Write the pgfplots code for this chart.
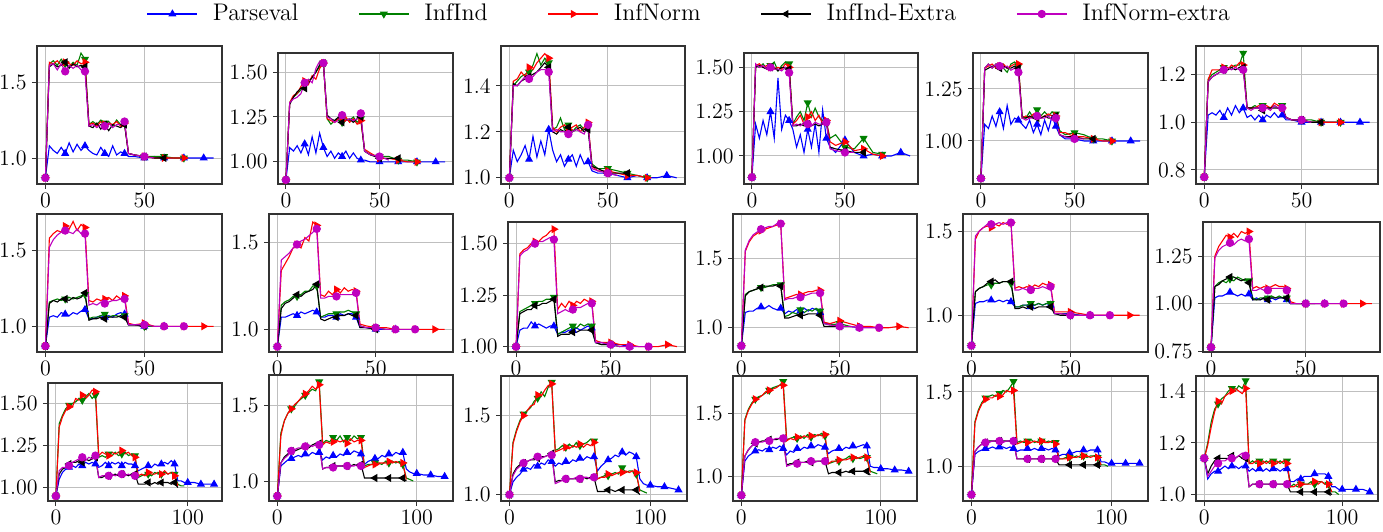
\documentclass[border=0pt]{standalone}
\usepackage{pgfplots}
\usepackage{pgfplotstable}
\pgfplotsset{compat=1.18}
\definecolor{gGreen}{rgb}{0,0.5,0}
\definecolor{mMag}{rgb}{0.75,0,0.75}

% ---------------- Row 1 ----------------
\pgfplotstableread{
x p g r k m
0 0.87 0.87 0.87 0.87 0.87
2 1.08 1.62 1.63 1.60 1.61
4 1.05 1.64 1.62 1.62 1.62
6 1.03 1.61 1.64 1.60 1.58
8 1.07 1.65 1.61 1.61 1.62
10 1.03 1.62 1.63 1.63 1.57
12 1.10 1.60 1.62 1.59 1.61
14 1.04 1.63 1.61 1.62 1.59
16 1.09 1.61 1.64 1.60 1.61
18 1.05 1.69 1.62 1.61 1.58
20 1.08 1.65 1.63 1.60 1.57
22 1.05 1.22 1.22 1.21 1.21
24 1.03 1.24 1.23 1.20 1.22
26 1.02 1.22 1.21 1.23 1.20
28 1.07 1.25 1.24 1.19 1.22
30 1.03 1.23 1.22 1.22 1.21
32 1.01 1.24 1.23 1.18 1.23
34 1.08 1.21 1.22 1.22 1.20
36 1.02 1.25 1.24 1.21 1.22
38 1.04 1.22 1.21 1.20 1.22
40 1.03 1.23 1.23 1.22 1.24
42 1.01 1.03 1.03 1.03 1.03
45 1.01 1.02 1.02 1.02 1.02
50 1.00 1.01 1.01 1.01 1.01
55 1.01 1.01 1.00 1.00 1.00
60 1.00 1.01 1.00 1.00 nan
65 1.00 1.00 1.00 nan nan
70 1.00 1.00 1.00 nan nan
75 1.00 nan nan nan nan
80 1.00 nan nan nan nan
85 1.00 nan nan nan nan
}\dA
\pgfplotstableread{
x p g r k m
0 0.90 0.90 0.90 0.90 0.90
2 1.08 1.33 1.33 1.32 1.33
4 1.06 1.36 1.37 1.36 1.35
6 1.09 1.38 1.38 1.39 1.36
8 1.05 1.40 1.42 1.41 1.38
10 1.10 1.43 1.45 1.41 1.44
12 1.04 1.45 1.43 1.44 1.46
14 1.14 1.47 1.48 1.47 1.44
16 1.05 1.50 1.46 1.50 1.52
18 1.16 1.53 1.52 1.54 1.56
20 1.08 1.55 1.55 1.55 1.55
22 1.03 1.24 1.24 1.26 1.25
24 1.06 1.21 1.23 1.24 1.24
26 1.02 1.23 1.22 1.23 1.22
28 1.05 1.24 1.24 1.25 1.23
30 1.03 1.22 1.23 1.22 1.26
32 1.06 1.24 1.25 1.23 1.23
34 1.02 1.23 1.22 1.24 1.24
36 1.05 1.25 1.24 1.22 1.23
38 1.02 1.22 1.21 1.24 1.24
40 1.01 1.24 1.23 1.25 1.27
42 1.01 1.06 1.07 1.06 1.06
45 1.00 1.04 1.05 1.04 1.04
50 1.00 1.03 1.02 1.02 1.03
55 1.00 1.03 1.02 1.02 1.01
60 1.00 1.01 1.01 1.02 nan
65 1.00 1.01 1.00 nan nan
70 1.00 1.00 1.00 nan nan
75 1.00 nan nan nan nan
80 1.00 nan nan nan nan
85 1.00 nan nan nan nan
}\dB
\pgfplotstableread{
x p g r k m
0 1.00 1.00 1.00 1.00 1.00
2 1.12 1.40 1.42 1.41 1.40
4 1.07 1.42 1.43 1.40 1.40
6 1.10 1.44 1.46 1.42 1.42
8 1.14 1.45 1.44 1.43 1.44
10 1.08 1.46 1.48 1.44 1.43
12 1.18 1.49 1.47 1.45 1.44
14 1.09 1.54 1.50 1.46 1.46
16 1.16 1.49 1.52 1.48 1.47
18 1.10 1.52 1.54 1.50 1.47
20 1.21 1.50 1.52 1.48 1.46
22 1.12 1.21 1.22 1.20 1.20
24 1.07 1.22 1.20 1.19 1.21
26 1.10 1.26 1.22 1.21 1.20
28 1.05 1.21 1.23 1.20 1.20
30 1.08 1.23 1.21 1.22 1.19
32 1.10 1.20 1.22 1.20 1.20
34 1.05 1.22 1.23 1.21 1.21
36 1.10 1.23 1.20 1.22 1.20
38 1.06 1.21 1.22 1.20 1.19
40 1.07 1.22 1.24 1.21 1.23
42 1.03 1.06 1.05 1.05 1.04
45 1.02 1.04 1.03 1.04 1.03
50 1.02 1.04 1.03 1.02 1.02
55 1.01 1.03 1.02 1.02 1.01
60 1.00 1.02 1.01 1.02 nan
65 1.01 1.01 1.01 nan nan
70 1.00 1.00 1.00 nan nan
75 1.00 nan nan nan nan
80 1.01 nan nan nan nan
85 1.00 nan nan nan nan
}\dC
\pgfplotstableread{
x p g r k m
0 0.88 0.88 0.88 0.88 0.88
2 1.18 1.51 1.51 1.50 1.52
4 1.10 1.50 1.52 1.51 1.50
6 1.20 1.52 1.50 1.50 1.51
8 1.12 1.49 1.51 1.49 1.49
10 1.25 1.51 1.50 1.50 1.50
12 1.10 1.53 1.49 1.50 1.49
14 1.44 1.48 1.50 1.48 1.49
16 1.15 1.51 1.49 1.50 1.48
18 1.23 1.53 1.52 1.50 1.50
20 1.20 1.52 1.50 1.49 1.47
22 1.15 1.18 1.18 1.17 1.17
24 1.05 1.22 1.20 1.17 1.18
26 1.12 1.25 1.23 1.18 1.17
28 1.02 1.20 1.18 1.17 1.19
30 1.15 1.30 1.22 1.18 1.18
32 1.05 1.22 1.25 1.17 1.17
34 1.18 1.27 1.20 1.18 1.19
36 1.02 1.22 1.23 1.17 1.18
38 1.26 1.20 1.18 1.18 1.18
40 1.10 1.19 1.20 1.19 1.19
42 1.05 1.10 1.08 1.05 1.04
45 1.02 1.12 1.06 1.04 1.03
50 1.09 1.05 1.08 1.03 1.02
55 1.02 1.04 1.03 1.02 1.02
60 1.00 1.10 1.04 1.02 nan
65 1.01 1.02 1.01 nan nan
70 1.00 1.01 1.00 nan nan
75 1.00 nan nan nan nan
80 1.02 nan nan nan nan
85 1.00 nan nan nan nan
}\dD
\pgfplotstableread{
x p g r k m
0 0.82 0.82 0.82 0.82 0.82
2 1.08 1.35 1.35 1.34 1.35
4 1.06 1.37 1.36 1.35 1.37
6 1.12 1.35 1.37 1.36 1.35
8 1.07 1.37 1.35 1.36 1.37
10 1.14 1.36 1.36 1.35 1.36
12 1.06 1.35 1.37 1.36 1.35
14 1.17 1.33 1.35 1.35 1.36
16 1.08 1.37 1.36 1.35 1.34
18 1.11 1.38 1.37 1.36 1.35
20 1.10 1.36 1.37 1.35 1.33
22 1.08 1.12 1.11 1.11 1.11
24 1.06 1.11 1.12 1.11 1.10
26 1.10 1.14 1.11 1.12 1.11
28 1.04 1.11 1.13 1.11 1.11
30 1.08 1.15 1.12 1.11 1.12
32 1.03 1.12 1.11 1.11 1.11
34 1.10 1.14 1.12 1.12 1.11
36 1.05 1.12 1.13 1.11 1.12
38 1.12 1.14 1.12 1.11 1.10
40 1.07 1.13 1.12 1.12 1.11
42 1.03 1.05 1.04 1.03 1.03
45 1.01 1.03 1.04 1.02 1.02
50 1.01 1.04 1.02 1.02 1.01
55 1.00 1.03 1.02 1.01 1.01
60 1.00 1.01 1.01 1.01 nan
65 1.00 1.01 1.00 nan nan
70 1.00 1.00 1.00 nan nan
75 1.00 nan nan nan nan
80 1.00 nan nan nan nan
85 1.00 nan nan nan nan
}\dE
\pgfplotstableread{
x p g r k m
0 0.77 0.77 0.77 0.77 0.77
2 1.03 1.18 1.18 1.17 1.17
4 1.04 1.20 1.22 1.19 1.19
6 1.03 1.21 1.22 1.20 1.20
8 1.05 1.22 1.22 1.21 1.21
10 1.02 1.23 1.23 1.22 1.22
12 1.06 1.22 1.22 1.22 1.23
14 1.03 1.23 1.24 1.23 1.22
16 1.07 1.24 1.23 1.22 1.23
18 1.04 1.24 1.25 1.23 1.22
20 1.06 1.29 1.24 1.23 1.22
22 1.02 1.06 1.06 1.06 1.06
24 1.03 1.06 1.06 1.06 1.05
26 1.01 1.07 1.06 1.06 1.06
28 1.03 1.06 1.07 1.06 1.06
30 1.01 1.07 1.06 1.05 1.06
32 1.03 1.06 1.07 1.06 1.06
34 1.02 1.06 1.06 1.06 1.05
36 1.04 1.07 1.08 1.06 1.07
38 1.02 1.06 1.07 1.06 1.06
40 1.03 1.07 1.06 1.06 1.06
42 1.01 1.02 1.02 1.02 1.02
45 1.01 1.01 1.01 1.01 1.01
50 1.00 1.01 1.01 1.01 1.01
55 1.00 1.01 1.00 1.00 1.00
60 1.00 1.00 1.00 1.00 nan
65 1.00 1.00 1.00 nan nan
70 1.00 1.00 1.00 nan nan
75 1.00 nan nan nan nan
80 1.00 nan nan nan nan
85 1.00 nan nan nan nan
}\dF

% ---------------- Row 2 ----------------
\pgfplotstableread{
x p g r k m
0 0.87 0.87 0.87 0.87 0.87
2 1.06 1.16 1.58 1.15 1.52
4 1.07 1.17 1.61 1.17 1.57
6 1.06 1.18 1.63 1.16 1.60
8 1.09 1.17 1.62 1.18 1.62
10 1.08 1.18 1.66 1.18 1.63
12 1.07 1.19 1.64 1.17 1.62
14 1.09 1.18 1.69 1.19 1.61
16 1.08 1.19 1.63 1.18 1.64
18 1.10 1.20 1.67 1.19 1.61
20 1.11 1.21 1.65 1.22 1.61
22 1.05 1.05 1.17 1.04 1.14
24 1.05 1.06 1.16 1.05 1.15
26 1.06 1.06 1.18 1.05 1.14
28 1.07 1.07 1.17 1.06 1.16
30 1.06 1.08 1.18 1.05 1.15
32 1.07 1.06 1.19 1.06 1.16
34 1.06 1.07 1.17 1.06 1.17
36 1.08 1.07 1.20 1.06 1.17
38 1.09 1.06 1.18 1.07 1.18
40 1.08 1.07 1.20 1.06 1.18
42 1.01 1.01 1.02 1.01 1.01
45 1.01 1.01 1.01 1.01 1.01
50 1.00 1.00 1.02 1.00 1.01
55 1.00 1.00 1.00 nan 1.00
60 1.00 nan 1.00 nan 1.00
65 nan nan 1.00 nan 1.00
70 nan nan 1.00 nan 1.00
75 nan nan 1.00 nan nan
80 nan nan 1.00 nan nan
85 nan nan 1.00 nan nan
}\dG
\pgfplotstableread{
x p g r k m
0 0.90 0.90 0.90 0.90 0.90
2 1.07 1.14 1.34 1.12 1.40
4 1.07 1.16 1.38 1.15 1.42
6 1.08 1.17 1.42 1.16 1.44
8 1.09 1.19 1.47 1.18 1.47
10 1.08 1.19 1.49 1.20 1.49
12 1.10 1.20 1.47 1.19 1.51
14 1.09 1.22 1.53 1.21 1.52
16 1.10 1.22 1.51 1.22 1.54
18 1.11 1.25 1.62 1.23 1.56
20 1.10 1.25 1.60 1.26 1.58
22 1.07 1.07 1.20 1.06 1.18
24 1.07 1.08 1.19 1.05 1.18
26 1.08 1.09 1.22 1.06 1.19
28 1.08 1.09 1.20 1.07 1.19
30 1.07 1.09 1.23 1.07 1.19
32 1.09 1.10 1.21 1.08 1.20
34 1.08 1.10 1.24 1.08 1.20
36 1.09 1.11 1.22 1.09 1.20
38 1.09 1.10 1.23 1.08 1.20
40 1.07 1.09 1.22 1.08 1.21
42 1.01 1.02 1.03 1.01 1.02
45 1.01 1.01 1.02 1.01 1.01
50 1.00 1.01 1.01 1.00 1.01
55 1.00 1.00 1.01 nan 1.00
60 1.00 nan 1.00 nan 1.00
65 nan nan 1.00 nan 1.00
70 nan nan 1.00 nan 1.00
75 nan nan 1.00 nan nan
80 nan nan 1.00 nan nan
85 nan nan 1.00 nan nan
}\dH
\pgfplotstableread{
x p g r k m
0 1.00 1.00 1.00 1.00 1.00
2 1.08 1.17 1.45 1.16 1.44
4 1.09 1.18 1.47 1.17 1.46
6 1.09 1.19 1.48 1.18 1.47
8 1.12 1.20 1.50 1.18 1.49
10 1.10 1.21 1.51 1.20 1.50
12 1.11 1.22 1.51 1.20 1.51
14 1.10 1.22 1.53 1.21 1.51
16 1.09 1.23 1.54 1.21 1.52
18 1.10 1.23 1.56 1.22 1.53
20 1.10 1.24 1.57 1.23 1.52
22 1.06 1.06 1.18 1.05 1.16
24 1.07 1.07 1.21 1.06 1.17
26 1.07 1.08 1.19 1.06 1.18
28 1.08 1.09 1.22 1.06 1.17
30 1.08 1.10 1.20 1.07 1.18
32 1.09 1.09 1.22 1.07 1.19
34 1.08 1.11 1.21 1.08 1.19
36 1.09 1.10 1.23 1.08 1.20
38 1.10 1.11 1.22 1.08 1.21
40 1.09 1.10 1.22 1.08 1.21
42 1.02 1.02 1.03 1.02 1.02
45 1.02 1.01 1.02 1.01 1.02
50 1.01 1.01 1.02 1.01 1.01
55 1.01 1.00 1.01 nan 1.00
60 1.00 nan 1.01 nan 1.00
65 nan nan 1.00 nan 1.00
70 nan nan 1.00 nan 1.00
75 nan nan 1.00 nan nan
80 nan nan 1.01 nan nan
85 nan nan 1.00 nan nan
}\dI
\pgfplotstableread{
x p g r k m
0 0.87 0.87 0.87 0.87 0.87
2 1.11 1.24 1.55 1.23 1.56
4 1.12 1.26 1.62 1.26 1.63
6 1.12 1.27 1.66 1.27 1.67
8 1.14 1.28 1.68 1.28 1.69
10 1.15 1.29 1.70 1.29 1.71
12 1.14 1.29 1.71 1.30 1.72
14 1.16 1.30 1.72 1.30 1.73
16 1.14 1.31 1.73 1.30 1.73
18 1.13 1.31 1.74 1.31 1.75
20 1.14 1.31 1.75 1.30 1.75
22 1.10 1.08 1.21 1.07 1.20
24 1.12 1.09 1.22 1.07 1.21
26 1.11 1.11 1.23 1.08 1.21
28 1.13 1.10 1.24 1.09 1.22
30 1.12 1.13 1.24 1.09 1.22
32 1.14 1.11 1.25 1.09 1.23
34 1.12 1.13 1.26 1.10 1.24
36 1.14 1.12 1.26 1.10 1.25
38 1.13 1.14 1.27 1.10 1.25
40 1.11 1.12 1.27 1.09 1.25
42 1.03 1.03 1.04 1.01 1.03
45 1.03 1.02 1.03 1.01 1.02
50 1.01 1.03 1.05 1.01 1.01
55 1.01 1.01 1.03 nan 1.01
60 1.00 nan 1.01 nan 1.00
65 nan nan 1.01 nan 1.00
70 nan nan 1.00 nan 1.00
75 nan nan 1.00 nan nan
80 nan nan 1.01 nan nan
85 nan nan 1.00 nan nan
}\dJ
\pgfplotstableread{
x p g r k m
0 0.82 0.82 0.82 0.82 0.82
2 1.07 1.14 1.45 1.14 1.47
4 1.08 1.16 1.50 1.16 1.50
6 1.08 1.17 1.52 1.17 1.52
8 1.09 1.18 1.53 1.19 1.54
10 1.09 1.18 1.52 1.20 1.54
12 1.08 1.19 1.54 1.21 1.54
14 1.09 1.19 1.53 1.19 1.55
16 1.08 1.20 1.55 1.20 1.54
18 1.09 1.20 1.54 1.20 1.55
20 1.08 1.19 1.55 1.20 1.55
22 1.05 1.05 1.16 1.04 1.15
24 1.05 1.05 1.17 1.04 1.15
26 1.06 1.06 1.16 1.05 1.16
28 1.06 1.06 1.17 1.04 1.15
30 1.05 1.07 1.16 1.05 1.15
32 1.06 1.06 1.18 1.04 1.16
34 1.07 1.07 1.17 1.05 1.16
36 1.06 1.06 1.19 1.05 1.17
38 1.07 1.07 1.18 1.05 1.16
40 1.06 1.07 1.18 1.05 1.17
42 1.01 1.01 1.02 1.01 1.01
45 1.01 1.01 1.02 1.00 1.01
50 1.01 1.00 1.02 1.00 1.00
55 1.00 1.00 1.01 nan 1.00
60 1.00 nan 1.00 nan 1.00
65 nan nan 1.00 nan 1.00
70 nan nan 1.00 nan 1.00
75 nan nan 1.00 nan nan
80 nan nan 1.00 nan nan
85 nan nan 1.00 nan nan
}\dK
\pgfplotstableread{
x p g r k m
0 0.77 0.77 0.77 0.77 0.77
2 1.03 1.09 1.25 1.09 1.24
4 1.04 1.11 1.30 1.10 1.28
6 1.04 1.12 1.33 1.12 1.30
8 1.05 1.11 1.36 1.13 1.31
10 1.06 1.13 1.35 1.14 1.32
12 1.05 1.12 1.37 1.14 1.31
14 1.04 1.14 1.35 1.13 1.33
16 1.05 1.13 1.38 1.12 1.34
18 1.04 1.12 1.37 1.13 1.33
20 1.05 1.12 1.38 1.11 1.34
22 1.02 1.03 1.08 1.02 1.07
24 1.03 1.02 1.09 1.02 1.07
26 1.02 1.03 1.08 1.02 1.08
28 1.03 1.03 1.09 1.03 1.07
30 1.02 1.03 1.08 1.02 1.07
32 1.03 1.04 1.09 1.03 1.08
34 1.02 1.03 1.10 1.03 1.08
36 1.03 1.04 1.09 1.03 1.08
38 1.03 1.03 1.09 1.03 1.08
40 1.02 1.03 1.08 1.03 1.07
42 1.00 1.00 1.01 1.00 1.00
45 1.00 1.00 1.00 1.00 1.00
50 1.00 1.00 1.00 1.00 1.00
55 1.00 1.00 1.00 nan 1.00
60 1.00 nan 1.00 nan 1.00
65 nan nan 1.00 nan 1.00
70 nan nan 1.00 nan 1.00
75 nan nan 1.00 nan nan
80 nan nan 1.00 nan nan
85 nan nan 1.00 nan nan
}\dL

% ---------------- Row 3 ----------------
\pgfplotstableread{
x p g r k m
0 0.95 0.95 0.95 0.95 0.95
2.5 1.05 1.38 1.36 1.08 1.10
5 1.09 1.43 1.42 1.11 1.12
7.5 1.11 1.47 1.46 1.12 1.12
10 1.12 1.49 1.48 1.14 1.13
12.5 1.13 1.50 1.48 1.15 1.15
15 1.12 1.51 1.53 1.15 1.16
17.5 1.14 1.53 1.52 1.16 1.17
20 1.13 1.52 1.55 1.15 1.18
22.5 1.15 1.54 1.53 1.17 1.16
25 1.14 1.56 1.55 1.16 1.18
27.5 1.15 1.53 1.58 1.17 1.17
30 1.14 1.55 1.57 1.18 1.19
32.5 1.12 1.18 1.19 1.06 1.06
35 1.13 1.19 1.21 1.06 1.07
37.5 1.15 1.18 1.20 1.07 1.07
40 1.13 1.20 1.19 1.07 1.07
42.5 1.15 1.19 1.21 1.07 1.08
45 1.14 1.21 1.20 1.08 1.07
47.5 1.15 1.19 1.21 1.07 1.08
50 1.13 1.20 1.22 1.08 1.08
52.5 1.15 1.21 1.20 1.08 1.07
55 1.14 1.19 1.21 1.07 1.08
57.5 1.14 1.20 1.19 1.08 1.07
60 1.13 1.19 1.18 1.08 1.07
62.5 1.10 1.06 1.07 1.02 nan
65 1.11 1.07 1.08 1.02 nan
67.5 1.12 1.08 1.07 1.02 nan
70 1.13 1.08 1.09 1.03 nan
72.5 1.12 1.07 1.08 1.02 nan
75 1.14 1.09 1.08 1.03 nan
77.5 1.13 1.08 1.09 1.02 nan
80 1.14 1.08 1.08 1.03 nan
82.5 1.15 1.09 1.10 1.03 nan
85 1.14 1.08 1.08 1.03 nan
87.5 1.16 1.09 1.09 1.02 nan
90 1.14 1.08 1.07 1.03 nan
92.5 1.04 1.02 1.01 1.00 nan
95 1.04 1.01 nan nan nan
97.5 1.03 1.01 nan nan nan
100 1.03 nan nan nan nan
105 1.03 nan nan nan nan
110 1.02 nan nan nan nan
115 1.02 nan nan nan nan
120 1.02 nan nan nan nan
}\dM
\pgfplotstableread{
x p g r k m
0 0.90 0.90 0.90 0.90 0.90
2.5 1.10 1.32 1.30 1.12 1.12
5 1.12 1.40 1.40 1.16 1.15
7.5 1.14 1.45 1.45 1.18 1.17
10 1.15 1.48 1.48 1.20 1.20
12.5 1.16 1.50 1.51 1.20 1.21
15 1.17 1.53 1.53 1.21 1.22
17.5 1.16 1.55 1.56 1.22 1.22
20 1.18 1.57 1.58 1.23 1.23
22.5 1.17 1.59 1.60 1.22 1.24
25 1.19 1.61 1.63 1.24 1.23
27.5 1.18 1.60 1.61 1.25 1.24
30 1.19 1.66 1.64 1.25 1.24
32.5 1.14 1.25 1.24 1.08 1.08
35 1.16 1.27 1.26 1.09 1.09
37.5 1.15 1.26 1.25 1.09 1.09
40 1.17 1.29 1.26 1.10 1.09
42.5 1.16 1.27 1.27 1.10 1.10
45 1.18 1.30 1.26 1.10 1.10
47.5 1.17 1.26 1.27 1.10 1.10
50 1.19 1.29 1.25 1.10 1.10
52.5 1.18 1.27 1.28 1.10 1.10
55 1.20 1.30 1.26 1.11 1.10
57.5 1.19 1.28 1.27 1.10 1.11
60 1.18 1.29 1.27 1.11 1.10
62.5 1.11 1.10 1.09 1.02 nan
65 1.13 1.11 1.10 1.02 nan
67.5 1.14 1.11 1.11 1.02 nan
70 1.15 1.12 1.11 1.02 nan
72.5 1.15 1.12 1.12 1.02 nan
75 1.17 1.11 1.12 1.02 nan
77.5 1.16 1.13 1.12 1.02 nan
80 1.18 1.12 1.13 1.02 nan
82.5 1.17 1.13 1.12 1.02 nan
85 1.19 1.12 1.13 1.02 nan
87.5 1.18 1.13 1.12 1.02 nan
90 1.19 1.11 1.12 1.02 nan
92.5 1.08 1.02 1.01 1.00 nan
95 1.06 1.01 nan nan nan
97.5 1.05 1.00 nan nan nan
100 1.05 nan nan nan nan
105 1.04 nan nan nan nan
110 1.04 nan nan nan nan
115 1.03 nan nan nan nan
120 1.03 nan nan nan nan
}\dN
\pgfplotstableread{
x p g r k m
0 1.00 1.00 1.00 1.00 1.00
2.5 1.08 1.33 1.32 1.13 1.12
5 1.11 1.41 1.40 1.17 1.16
7.5 1.13 1.47 1.46 1.19 1.18
10 1.16 1.51 1.50 1.20 1.20
12.5 1.17 1.53 1.53 1.21 1.21
15 1.16 1.55 1.56 1.22 1.22
17.5 1.19 1.59 1.57 1.22 1.23
20 1.18 1.61 1.63 1.23 1.24
22.5 1.20 1.65 1.62 1.24 1.23
25 1.19 1.62 1.66 1.24 1.24
27.5 1.22 1.68 1.69 1.25 1.25
30 1.21 1.71 1.70 1.26 1.25
32.5 1.18 1.28 1.27 1.08 1.07
35 1.20 1.29 1.28 1.09 1.08
37.5 1.19 1.31 1.29 1.09 1.09
40 1.21 1.30 1.30 1.10 1.10
42.5 1.20 1.32 1.29 1.10 1.10
45 1.22 1.30 1.31 1.10 1.10
47.5 1.21 1.33 1.30 1.10 1.11
50 1.23 1.31 1.32 1.10 1.10
52.5 1.22 1.32 1.30 1.11 1.11
55 1.24 1.33 1.32 1.10 1.11
57.5 1.23 1.35 1.31 1.11 1.10
60 1.24 1.34 1.33 1.11 1.11
62.5 1.15 1.10 1.10 1.02 nan
65 1.18 1.11 1.11 1.02 nan
67.5 1.20 1.12 1.11 1.02 nan
70 1.22 1.12 1.13 1.03 nan
72.5 1.23 1.13 1.12 1.03 nan
75 1.25 1.14 1.13 1.02 nan
77.5 1.24 1.13 1.14 1.03 nan
80 1.27 1.17 1.14 1.03 nan
82.5 1.25 1.14 1.15 1.03 nan
85 1.27 1.15 1.14 1.03 nan
87.5 1.26 1.15 1.15 1.03 nan
90 1.24 1.13 1.14 1.03 nan
92.5 1.10 1.03 1.02 1.00 nan
95 1.07 1.02 nan nan nan
97.5 1.06 1.01 nan nan nan
100 1.06 nan nan nan nan
105 1.05 nan nan nan nan
110 1.05 nan nan nan nan
115 1.04 nan nan nan nan
120 1.03 nan nan nan nan
}\dO
\pgfplotstableread{
x p g r k m
0 0.85 0.85 0.85 0.85 0.85
2.5 1.12 1.45 1.44 1.16 1.16
5 1.16 1.53 1.52 1.21 1.21
7.5 1.18 1.58 1.57 1.24 1.24
10 1.20 1.61 1.61 1.26 1.27
12.5 1.21 1.63 1.62 1.27 1.27
15 1.20 1.64 1.64 1.28 1.27
17.5 1.22 1.66 1.67 1.28 1.28
20 1.21 1.68 1.68 1.29 1.28
22.5 1.23 1.70 1.69 1.29 1.29
25 1.22 1.71 1.70 1.29 1.30
27.5 1.24 1.72 1.72 1.30 1.30
30 1.22 1.75 1.72 1.30 1.30
32.5 1.17 1.29 1.28 1.09 1.08
35 1.20 1.30 1.30 1.10 1.09
37.5 1.19 1.31 1.29 1.10 1.10
40 1.22 1.30 1.31 1.11 1.10
42.5 1.21 1.32 1.30 1.11 1.11
45 1.23 1.30 1.32 1.11 1.11
47.5 1.22 1.33 1.31 1.12 1.11
50 1.24 1.31 1.32 1.11 1.12
52.5 1.23 1.33 1.31 1.12 1.11
55 1.25 1.32 1.33 1.12 1.12
57.5 1.24 1.34 1.32 1.12 1.12
60 1.23 1.32 1.33 1.12 1.12
62.5 1.18 1.10 1.10 1.02 nan
65 1.20 1.11 1.12 1.03 nan
67.5 1.21 1.12 1.12 1.03 nan
70 1.22 1.12 1.13 1.03 nan
72.5 1.21 1.13 1.13 1.03 nan
75 1.23 1.14 1.13 1.04 nan
77.5 1.22 1.16 1.14 1.03 nan
80 1.24 1.14 1.15 1.04 nan
82.5 1.23 1.15 1.14 1.04 nan
85 1.24 1.14 1.15 1.04 nan
87.5 1.25 1.15 1.16 1.04 nan
90 1.24 1.15 1.15 1.04 nan
92.5 1.08 1.04 1.03 1.01 nan
95 1.07 1.03 nan nan nan
97.5 1.07 1.02 nan nan nan
100 1.06 nan nan nan nan
105 1.06 nan nan nan nan
110 1.05 nan nan nan nan
115 1.05 nan nan nan nan
120 1.04 nan nan nan nan
}\dP
\pgfplotstableread{
x p g r k m
0 0.81 0.81 0.81 0.81 0.81
2.5 1.08 1.30 1.29 1.10 1.10
5 1.10 1.38 1.37 1.13 1.13
7.5 1.11 1.43 1.42 1.15 1.15
10 1.12 1.46 1.45 1.16 1.16
12.5 1.12 1.47 1.46 1.17 1.16
15 1.13 1.48 1.46 1.17 1.17
17.5 1.12 1.47 1.48 1.17 1.17
20 1.13 1.49 1.47 1.17 1.17
22.5 1.13 1.51 1.48 1.17 1.16
25 1.12 1.50 1.51 1.17 1.17
27.5 1.13 1.53 1.50 1.17 1.17
30 1.12 1.57 1.51 1.17 1.17
32.5 1.10 1.16 1.15 1.05 1.05
35 1.11 1.17 1.16 1.05 1.05
37.5 1.11 1.16 1.17 1.05 1.05
40 1.12 1.17 1.16 1.05 1.05
42.5 1.11 1.18 1.16 1.05 1.05
45 1.12 1.16 1.17 1.05 1.05
47.5 1.11 1.17 1.16 1.05 1.05
50 1.12 1.17 1.17 1.05 1.05
52.5 1.12 1.16 1.16 1.05 1.05
55 1.11 1.17 1.16 1.05 1.05
57.5 1.12 1.16 1.17 1.05 1.05
60 1.11 1.16 1.15 1.05 1.05
62.5 1.07 1.05 1.05 1.01 nan
65 1.08 1.05 1.05 1.01 nan
67.5 1.08 1.06 1.05 1.01 nan
70 1.09 1.06 1.06 1.01 nan
72.5 1.09 1.06 1.06 1.01 nan
75 1.10 1.07 1.06 1.01 nan
77.5 1.10 1.06 1.07 1.01 nan
80 1.11 1.07 1.07 1.01 nan
82.5 1.10 1.06 1.07 1.01 nan
85 1.11 1.07 1.06 1.01 nan
87.5 1.11 1.07 1.07 1.01 nan
90 1.11 1.06 1.06 1.01 nan
92.5 1.03 1.01 1.01 1.00 nan
95 1.03 1.01 nan nan nan
97.5 1.02 1.00 nan nan nan
100 1.02 nan nan nan nan
105 1.02 nan nan nan nan
110 1.02 nan nan nan nan
115 1.02 nan nan nan nan
120 1.02 nan nan nan nan
}\dQ
\pgfplotstableread{
x p g r k m
0 1.14 1.14 1.14 1.14 1.14
2.5 1.06 1.20 1.19 1.08 1.07
5 1.08 1.28 1.26 1.11 1.09
7.5 1.09 1.33 1.32 1.13 1.11
10 1.09 1.35 1.36 1.14 1.12
12.5 1.10 1.37 1.35 1.14 1.13
15 1.11 1.38 1.38 1.14 1.13
17.5 1.10 1.40 1.39 1.14 1.14
20 1.11 1.41 1.40 1.15 1.14
22.5 1.11 1.40 1.41 1.14 1.14
25 1.10 1.42 1.40 1.15 1.15
27.5 1.11 1.41 1.39 1.14 1.16
30 1.11 1.44 1.41 1.14 1.15
32.5 1.09 1.12 1.12 1.03 1.03
35 1.10 1.13 1.12 1.04 1.04
37.5 1.09 1.12 1.13 1.04 1.04
40 1.10 1.13 1.12 1.04 1.04
42.5 1.09 1.12 1.13 1.04 1.04
45 1.10 1.13 1.12 1.04 1.04
47.5 1.09 1.12 1.13 1.04 1.04
50 1.10 1.13 1.12 1.04 1.04
52.5 1.10 1.12 1.13 1.04 1.04
55 1.09 1.13 1.12 1.04 1.04
57.5 1.10 1.12 1.13 1.04 1.04
60 1.10 1.13 1.12 1.04 1.04
62.5 1.05 1.03 1.03 1.01 nan
65 1.05 1.04 1.03 1.01 nan
67.5 1.06 1.03 1.04 1.01 nan
70 1.06 1.04 1.04 1.01 nan
72.5 1.07 1.04 1.04 1.01 nan
75 1.07 1.04 1.04 1.01 nan
77.5 1.07 1.05 1.04 1.01 nan
80 1.08 1.04 1.05 1.01 nan
82.5 1.08 1.05 1.04 1.01 nan
85 1.08 1.05 1.05 1.01 nan
87.5 1.08 1.04 1.04 1.01 nan
90 1.07 1.04 1.04 1.01 nan
92.5 1.03 1.01 1.01 1.00 nan
95 1.03 1.01 nan nan nan
97.5 1.02 1.00 nan nan nan
100 1.02 nan nan nan nan
105 1.02 nan nan nan nan
110 1.02 nan nan nan nan
115 1.02 nan nan nan nan
120 1.01 nan nan nan nan
}\dR

\pgfplotsset{
  panel/.style={scale only axis, anchor=south west,
    xmajorgrids, ymajorgrids,
    grid style={gray!50, line width=0.5pt},
    axis line style={black!80, line width=0.6pt},
    tick align=outside, xtick pos=bottom, ytick pos=left,
    major tick length=2.5pt,
    tick style={black!80, line width=0.5pt},
    tick label style={font=\fontsize{11}{13}\selectfont, inner sep=1pt},
    yticklabel style={xshift=-1.5pt},
    xticklabel style={yshift=-0.5pt},
    every axis plot/.append style={line width=0.55pt, mark size=1.8pt}},
  rowa/.style={xmin=-4.25, xmax=89.25, xtick={0,50}, xticklabels={0,50},
    every axis plot/.append style={mark indices={1,6,11,16,21,24,26,28,30}}},
  rowc/.style={xmin=-6, xmax=126, xtick={0,100}, xticklabels={0,100},
    every axis plot/.append style={mark indices={1,5,9,13,17,21,25,29,33,37,41,43,45}}},
  sP/.style={color=blue, mark=triangle*, mark options={solid, fill=blue}},
  sG/.style={color=gGreen, mark=triangle*, mark options={solid, fill=gGreen, rotate=180}},
  sR/.style={color=red, mark=triangle*, mark options={solid, fill=red, rotate=-90}},
  sK/.style={color=black, mark=triangle*, mark options={solid, fill=black, rotate=90}},
  sM/.style={color=mMag, mark=*, mark options={solid, fill=mMag}},
}
\newcommand{\five}[1]{%
  \addplot[sP] table[x=x, y=p] {#1};
  \addplot[sG] table[x=x, y=g] {#1};
  \addplot[sR] table[x=x, y=r] {#1};
  \addplot[sK] table[x=x, y=k] {#1};
  \addplot[sM] table[x=x, y=m] {#1};
}

\begin{document}
\begin{tikzpicture}
\useasboundingbox (0,0) rectangle (691.5pt,265.5pt);
% ---------- Row 1 ----------
\begin{axis}[panel, rowa, at={(18.5pt,173.5pt)}, width=92.5pt, height=69pt,
  ymin=0.829, ymax=1.737, ytick={1.0,1.5}, yticklabels={1.0,1.5},
  legend entries={Parseval,InfInd,InfNorm,InfInd-Extra,InfNorm-extra},
  legend image code/.code={\draw[#1, mark indices={2}] plot coordinates {(0pt,0pt) (12.5pt,0pt) (25pt,0pt)};},
  legend style={at={(3.532,1.232)}, anchor=center, draw=none, fill=none,
    legend columns=5, font=\fontsize{12}{14}\selectfont,
    /tikz/every odd column/.append style={column sep=5.5pt},
    /tikz/every even column/.append style={column sep=28pt}}]
\five{\dA}
\end{axis}
\begin{axis}[panel, rowa, at={(139pt,173.5pt)}, width=87.5pt, height=65.5pt,
  ymin=0.877, ymax=1.606, ytick={1.0,1.25,1.5}, yticklabels={1.00,1.25,1.50}]
\five{\dB}
\end{axis}
\begin{axis}[panel, rowa, at={(250.5pt,173.5pt)}, width=92pt, height=69pt,
  ymin=0.973, ymax=1.573, ytick={1.0,1.2,1.4}, yticklabels={1.0,1.2,1.4}]
\five{\dC}
\end{axis}
\begin{axis}[panel, rowa, at={(372pt,173.5pt)}, width=87pt, height=65.5pt,
  ymin=0.842, ymax=1.581, ytick={1.0,1.25,1.5}, yticklabels={1.00,1.25,1.50}]
\five{\dD}
\end{axis}
\begin{axis}[panel, rowa, at={(486.5pt,173.5pt)}, width=87.5pt, height=65.5pt,
  ymin=0.793, ymax=1.423, ytick={1.0,1.25}, yticklabels={1.00,1.25}]
\five{\dE}
\end{axis}
\begin{axis}[panel, rowa, at={(598pt,173.5pt)}, width=91pt, height=69pt,
  ymin=0.741, ymax=1.32, ytick={0.8,1.0,1.2}, yticklabels={0.8,1.0,1.2}]
\five{\dF}
\end{axis}
% ---------- Row 2 ----------
\begin{axis}[panel, rowa, at={(18.5pt,89.5pt)}, width=92.5pt, height=69pt,
  ymin=0.831, ymax=1.739, ytick={1.0,1.5}, yticklabels={1.0,1.5}]
\five{\dG}
\end{axis}
\begin{axis}[panel, rowa, at={(134.5pt,89.5pt)}, width=92pt, height=69pt,
  ymin=0.869, ymax=1.666, ytick={1.0,1.5}, yticklabels={1.0,1.5}]
\five{\dH}
\end{axis}
\begin{axis}[panel, rowa, at={(254pt,89.5pt)}, width=88.5pt, height=65pt,
  ymin=0.974, ymax=1.605, ytick={1.0,1.25,1.5}, yticklabels={1.00,1.25,1.50}]
\five{\dI}
\end{axis}
\begin{axis}[panel, rowa, at={(366.5pt,89.5pt)}, width=92pt, height=69pt,
  ymin=0.825, ymax=1.82, ytick={1.0,1.5}, yticklabels={1.0,1.5}]
\five{\dJ}
\end{axis}
\begin{axis}[panel, rowa, at={(481.5pt,89.5pt)}, width=92.5pt, height=69pt,
  ymin=0.782, ymax=1.601, ytick={1.0,1.5}, yticklabels={1.0,1.5}]
\five{\dK}
\end{axis}
\begin{axis}[panel, rowa, at={(601.5pt,89.5pt)}, width=88.5pt, height=65pt,
  ymin=0.745, ymax=1.43, ytick={0.75,1.0,1.25}, yticklabels={0.75,1.00,1.25}]
\five{\dL}
\end{axis}
% ---------- Row 3 ----------
\begin{axis}[panel, rowc, at={(24pt,15pt)}, width=87pt, height=59pt,
  ymin=0.92, ymax=1.622, ytick={1.0,1.25,1.5}, yticklabels={1.00,1.25,1.50}]
\five{\dM}
\end{axis}
\begin{axis}[panel, rowc, at={(134.5pt,15pt)}, width=92pt, height=63pt,
  ymin=0.867, ymax=1.705, ytick={1.0,1.5}, yticklabels={1.0,1.5}]
\five{\dN}
\end{axis}
\begin{axis}[panel, rowc, at={(250.5pt,15pt)}, width=93pt, height=62.5pt,
  ymin=0.96, ymax=1.75, ytick={1.0,1.5}, yticklabels={1.0,1.5}]
\five{\dO}
\end{axis}
\begin{axis}[panel, rowc, at={(366.5pt,15pt)}, width=92pt, height=62.5pt,
  ymin=0.805, ymax=1.793, ytick={1.0,1.5}, yticklabels={1.0,1.5}]
\five{\dP}
\end{axis}
\begin{axis}[panel, rowc, at={(481.5pt,15pt)}, width=92.5pt, height=62.5pt,
  ymin=0.767, ymax=1.607, ytick={1.0,1.5}, yticklabels={1.0,1.5}]
\five{\dQ}
\end{axis}
\begin{axis}[panel, rowc, at={(598pt,15pt)}, width=91pt, height=62.5pt,
  ymin=0.975, ymax=1.458, ytick={1.0,1.2,1.4}, yticklabels={1.0,1.2,1.4}]
\five{\dR}
\end{axis}
\end{tikzpicture}
\end{document}
